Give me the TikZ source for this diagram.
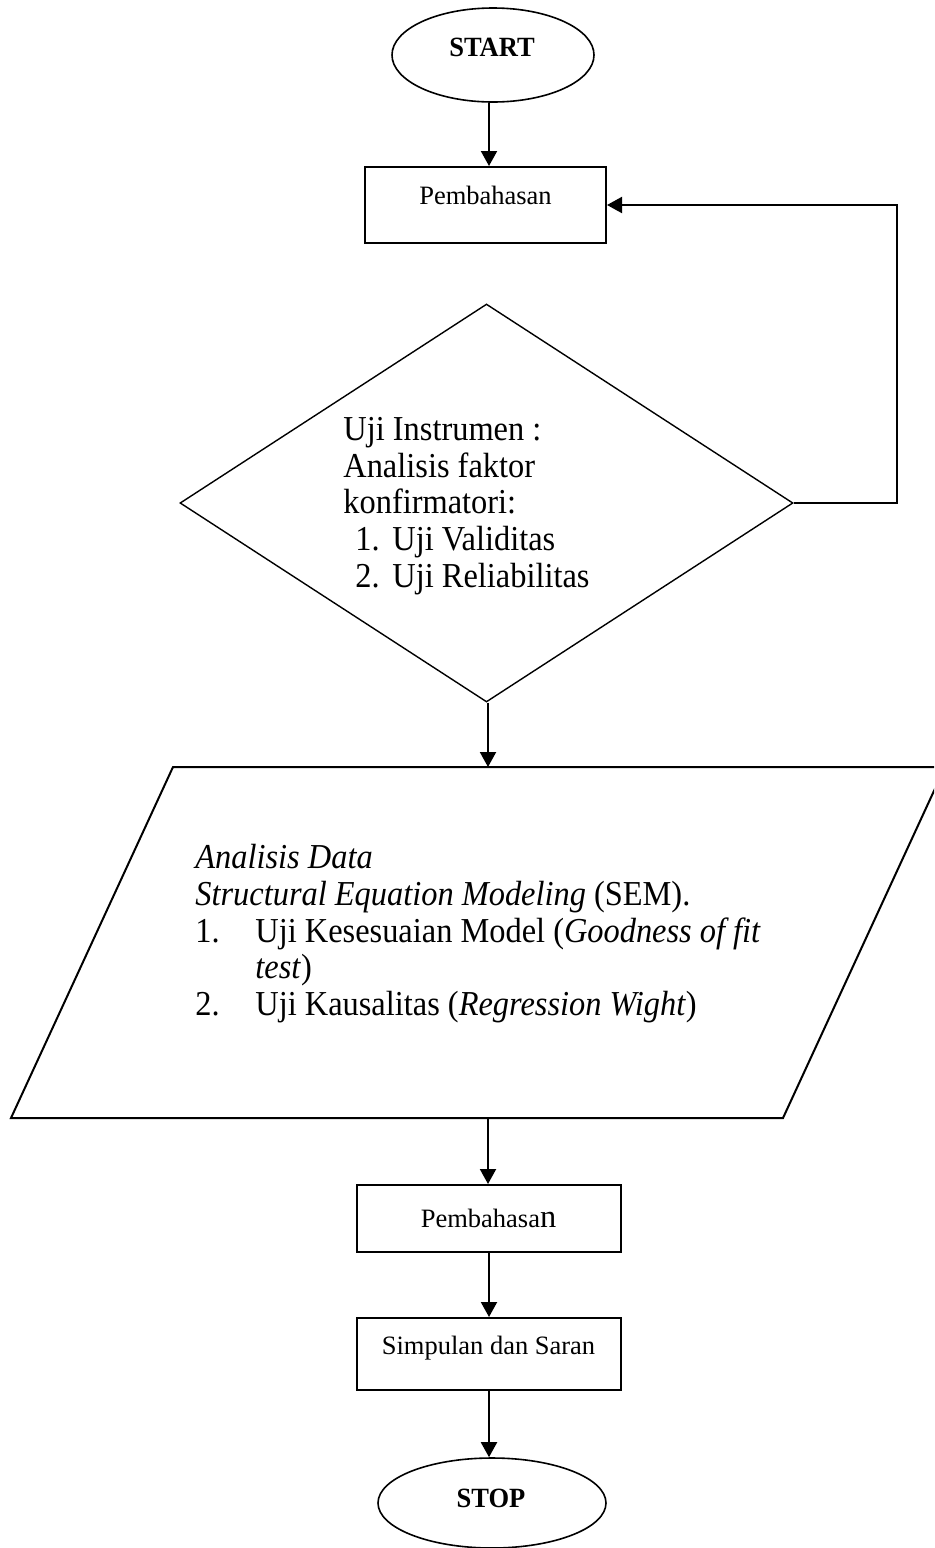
\documentclass[tikz,border=0pt]{standalone}
\usepackage{graphicx}
\usepackage{fontspec}
\setmainfont{Liberation Serif}
\usetikzlibrary{shapes.geometric,arrows.meta}
\newcommand\smallfnt{\fontsize{13.25pt}{16pt}\selectfont}
\newcommand\bigfnt{\fontsize{16.2pt}{18.4pt}\selectfont}
\newcommand\stretchtxt[1]{\scalebox{1}[1.08]{#1}}
\begin{document}
\begin{tikzpicture}[x=0.5pt,y=-0.5pt,
  term/.style={ellipse,draw,line width=0.8pt,inner sep=0pt},
  proc/.style={rectangle,draw,line width=1pt,inner sep=0pt},
  decis/.style={diamond,draw,line width=0.7pt,inner sep=0pt},
  txt/.style={inner sep=0pt,anchor=base west,font=\bigfnt},
  ctxt/.style={inner sep=0pt,anchor=base,font=\smallfnt},
  arr/.style={line width=1pt,-{Triangle[width=8pt,length=7.5pt]}}]
\useasboundingbox (0,0) rectangle (934,1548);
\clip (0,0) rectangle (934,1548);
% terminals and boxes
\node[term,minimum width=101pt,minimum height=47pt] (start) at (493,55) {};
\node[ctxt,font=\smallfnt\bfseries] (tstart) at (492,56) {\scalebox{1}[1.05]{START}};
\node[proc,minimum width=120.5pt,minimum height=38pt] (box1) at (485.5,205) {};
\node[ctxt] (t1) at (485.5,204) {Pembahasan};
% decision
\node[decis,minimum width=306.5pt,minimum height=199pt] (dia) at (486.5,503) {};
\node[txt] (d1) at (343,440) {\stretchtxt{Uji Instrumen :}};
\node[txt] (d2) at (343,477) {\stretchtxt{Analisis faktor}};
\node[txt] (d3) at (343,513) {\stretchtxt{konfirmatori:}};
\node[txt] (d4n) at (355,550) {\stretchtxt{1.}};
\node[txt] (d4) at (392,550) {\stretchtxt{Uji Validitas}};
\node[txt] (d5n) at (355,587) {\stretchtxt{2.}};
\node[txt] (d5) at (392,587) {\stretchtxt{Uji Reliabilitas}};
% data (parallelogram)
\draw[line width=1pt] (11,1118) -- (173,767) -- (945,767) -- (783,1118) -- cycle;
\coordinate (ptop) at (488,767);
\coordinate (pbot) at (488,1118);
\node[txt] (p1) at (195,868) {\stretchtxt{\textit{Analisis Data}}};
\node[txt] (p2) at (195,905) {\stretchtxt{\textit{Structural Equation Modeling} (SEM).}};
\node[txt] (p3n) at (195,942) {\stretchtxt{1.}};
\node[txt] (p3) at (255,942) {\stretchtxt{Uji Kesesuaian Model (\textit{Goodness of fit}}};
\node[txt] (p4) at (255,978) {\stretchtxt{\textit{test})}};
\node[txt] (p5n) at (195,1015) {\stretchtxt{2.}};
\node[txt] (p5) at (255,1015) {\stretchtxt{Uji Kausalitas (\textit{Regression Wight})}};
% lower boxes
\node[proc,minimum width=132pt,minimum height=33.5pt] (box2) at (489,1218.5) {};
\node[ctxt] (t2) at (488.5,1227) {Pembahasa{\bigfnt n}};
\node[proc,minimum width=132pt,minimum height=36pt] (box3) at (489,1354) {};
\node[ctxt] (t3) at (488.5,1354) {Simpulan dan Saran};
\node[term,minimum width=114pt,minimum height=45pt] (stop) at (492,1503) {};
\node[ctxt,font=\smallfnt\bfseries] (tstop) at (491,1507) {\scalebox{1}[1.05]{STOP}};
% connectors
\coordinate (ax) at (489,0);
\coordinate (bx) at (488,0);
\draw[arr] (ax |- start.south) -- (ax |- box1.north);
\draw[arr] (dia.east) -- ++(103,0) |- (box1.east);
\draw[arr] (bx |- dia.south) -- (bx |- ptop);
\draw[arr] (bx |- pbot) -- (bx |- box2.north);
\draw[arr] (ax |- box2.south) -- (ax |- box3.north);
\draw[arr] (ax |- box3.south) -- (ax |- stop.north);
\end{tikzpicture}
\end{document}
